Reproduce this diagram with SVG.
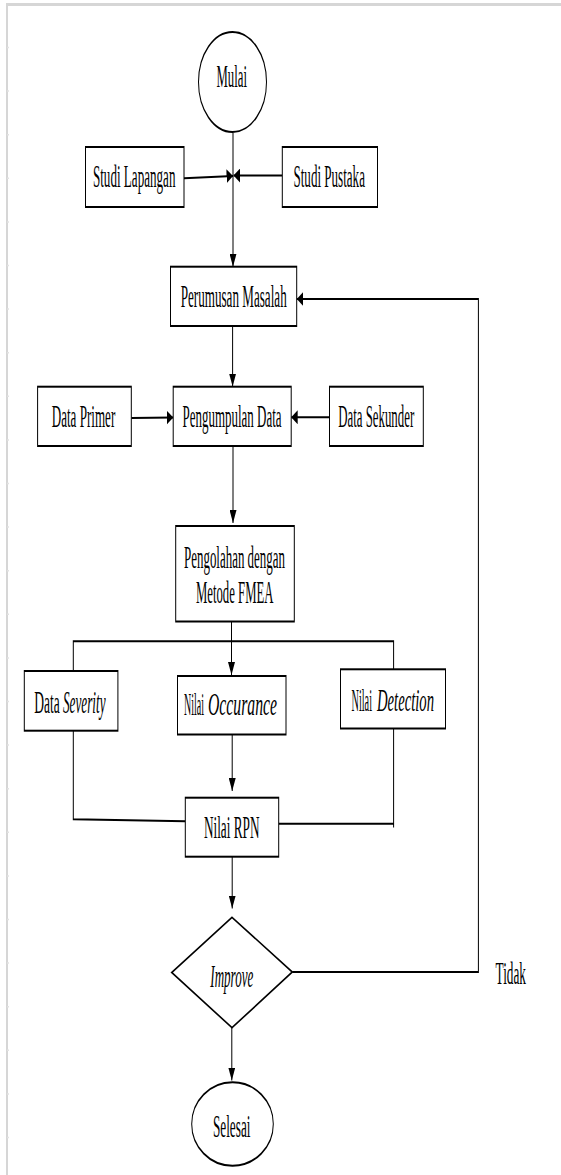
<svg xmlns="http://www.w3.org/2000/svg" width="561" height="1175" viewBox="0 0 561 1175">
<style>
.box{fill:#fff;stroke:#000;stroke-width:2}
.con{fill:none;stroke:#000;stroke-width:2}
.arr{marker-end:url(#ah)}
.lbl{font-family:"Liberation Serif","Times New Roman",serif;font-size:31px;fill:#000;text-anchor:middle}
.st{text-anchor:start}
.en{text-anchor:end}
.it{font-style:italic}
.frame{stroke:#d6d6d6;fill:none}
.tick{stroke:#e2e2e2;stroke-width:1.5}
</style>
<defs>
<marker id="ah" markerUnits="userSpaceOnUse" markerWidth="13" markerHeight="14" refX="13" refY="7" orient="auto" viewBox="0 0 13 14">
<path d="M0,0 L13,7 L0,14 z" fill="#000"/>
</marker>
</defs>
<rect width="561" height="1175" fill="#fff"/>
<g id="frame">
<line class="frame" x1="6" y1="4.5" x2="561" y2="4.5" stroke-width="3"/>
<line class="frame" x1="7" y1="4" x2="7" y2="1175" stroke-width="2"/>
<g class="tick">
<line x1="7" y1="47.5" x2="9" y2="47.5"/><line x1="7" y1="91" x2="9" y2="91"/><line x1="7" y1="134.7" x2="9" y2="134.7"/><line x1="7" y1="178.3" x2="9" y2="178.3"/><line x1="7" y1="221.9" x2="9" y2="221.9"/><line x1="7" y1="265.5" x2="9" y2="265.5"/><line x1="7" y1="309.1" x2="9" y2="309.1"/><line x1="7" y1="352.7" x2="9" y2="352.7"/><line x1="7" y1="396.3" x2="9" y2="396.3"/><line x1="7" y1="439.9" x2="9" y2="439.9"/><line x1="7" y1="483.5" x2="9" y2="483.5"/><line x1="7" y1="527.1" x2="9" y2="527.1"/><line x1="7" y1="570.7" x2="9" y2="570.7"/><line x1="7" y1="614.3" x2="9" y2="614.3"/><line x1="7" y1="657.9" x2="9" y2="657.9"/><line x1="7" y1="701.5" x2="9" y2="701.5"/><line x1="7" y1="745.1" x2="9" y2="745.1"/><line x1="7" y1="788.7" x2="9" y2="788.7"/><line x1="7" y1="832.3" x2="9" y2="832.3"/><line x1="7" y1="875.9" x2="9" y2="875.9"/><line x1="7" y1="919.5" x2="9" y2="919.5"/><line x1="7" y1="963.1" x2="9" y2="963.1"/><line x1="7" y1="1006.7" x2="9" y2="1006.7"/><line x1="7" y1="1050.3" x2="9" y2="1050.3"/><line x1="7" y1="1093.9" x2="9" y2="1093.9"/><line x1="7" y1="1137.5" x2="9" y2="1137.5"/>
</g>
</g>
<g transform="scale(0.5,1)">
<g id="connectors">
<path class="con arr" d="M466,133 V266.7"/>
<path class="con arr" d="M368,178.3 L466,176"/>
<path class="con arr" d="M564.6,175.5 H467"/>
<path class="con arr" d="M584.6,972 H956.8 V299 H593.4"/>
<path class="con arr" d="M465.2,326 V386.5"/>
<path class="con arr" d="M262.6,418 L346.4,417.5"/>
<path class="con arr" d="M659,417.3 H582.4"/>
<path class="con arr" d="M466,446 V523"/>
<path class="con arr" d="M463,621.5 V675"/>
<path class="con" d="M146.6,671 V641.3 H787.2 V669.3"/>
<path class="con arr" d="M464.4,734.5 V791"/>
<path class="con" d="M146.6,730.7 V819.3 L370.6,821.3"/>
<path class="con" d="M787.2,728.5 V827.5 M788.2,823.7 H557.4"/>
<path class="con arr" d="M464.4,856.7 V908.5"/>
<path class="con arr" d="M463.6,1027.7 V1080.5"/>
</g>
<g id="mulai">
<ellipse class="box" cx="465" cy="82" rx="68" ry="50"/>
<text class="lbl" x="463.4" y="87.3" textLength="61" lengthAdjust="spacingAndGlyphs">Mulai</text>
</g>
<g id="studi-lapangan">
<rect class="box" x="171" y="147" width="197" height="60"/>
<text class="lbl" x="268.4" y="187.3" textLength="165" lengthAdjust="spacingAndGlyphs">Studi Lapangan</text>
</g>
<g id="studi-pustaka">
<rect class="box" x="564.6" y="147" width="190.4" height="60"/>
<text class="lbl" x="658.4" y="187.3" textLength="143" lengthAdjust="spacingAndGlyphs">Studi Pustaka</text>
</g>
<g id="perumusan-masalah">
<rect class="box" x="341" y="266.7" width="252.4" height="59.3"/>
<text class="lbl" x="467.4" y="307.3" textLength="212" lengthAdjust="spacingAndGlyphs">Perumusan Masalah</text>
</g>
<g id="data-primer">
<rect class="box" x="75.2" y="386.7" width="187.4" height="59.3"/>
<text class="lbl" x="167" y="427.3" textLength="127" lengthAdjust="spacingAndGlyphs">Data Primer</text>
</g>
<g id="pengumpulan-data">
<rect class="box" x="346.4" y="386.7" width="236" height="59.3"/>
<text class="lbl" x="464" y="427.3" textLength="198" lengthAdjust="spacingAndGlyphs">Pengumpulan Data</text>
</g>
<g id="data-sekunder">
<rect class="box" x="659" y="386.7" width="187.6" height="59.3"/>
<text class="lbl" x="752.4" y="427.3" textLength="152" lengthAdjust="spacingAndGlyphs">Data Sekunder</text>
</g>
<g id="pengolahan">
<rect class="box" x="351.4" y="526" width="237.2" height="95.5"/>
<text class="lbl" x="469" y="568.3" textLength="202" lengthAdjust="spacingAndGlyphs">Pengolahan dengan</text>
<text class="lbl" x="469.4" y="603.3" textLength="155" lengthAdjust="spacingAndGlyphs">Metode FMEA</text>
</g>
<g id="data-severity">
<rect class="box" x="48.6" y="671" width="187.2" height="59.7"/>
<text class="lbl en" x="119.6" y="713.3" textLength="51" lengthAdjust="spacingAndGlyphs">Data</text>
<text class="lbl st it" x="126" y="713.3" textLength="85" lengthAdjust="spacingAndGlyphs">Severity</text>
</g>
<g id="nilai-occurance">
<rect class="box" x="355" y="676" width="217" height="58.5"/>
<text class="lbl en" x="408" y="715.5" textLength="40" lengthAdjust="spacingAndGlyphs">Nilai</text>
<text class="lbl st it" x="416" y="715.5" textLength="138" lengthAdjust="spacingAndGlyphs">Occurance</text>
</g>
<g id="nilai-detection">
<rect class="box" x="681" y="669.3" width="210" height="59.2"/>
<text class="lbl en" x="744" y="711" textLength="41" lengthAdjust="spacingAndGlyphs">Nilai</text>
<text class="lbl st it" x="754" y="711" textLength="114" lengthAdjust="spacingAndGlyphs">Detection</text>
</g>
<g id="nilai-rpn">
<rect class="box" x="370.6" y="797.7" width="186.8" height="59"/>
<text class="lbl" x="463.4" y="838.3" textLength="111" lengthAdjust="spacingAndGlyphs">Nilai RPN</text>
</g>
<g id="improve">
<polygon class="box" points="464,917.3 584.6,972 464,1027.7 343.4,972.5"/>
<text class="lbl it" x="463.6" y="986.7" textLength="86" lengthAdjust="spacingAndGlyphs">Improve</text>
</g>
<g id="tidak">
<text class="lbl" x="1021.5" y="984" textLength="61" lengthAdjust="spacingAndGlyphs">Tidak</text>
</g>
<g id="selesai">
<ellipse class="box" cx="465" cy="1124" rx="81.6" ry="41.7"/>
<text class="lbl" x="463.4" y="1136.7" textLength="75" lengthAdjust="spacingAndGlyphs">Selesai</text>
</g>
</g>
</svg>
